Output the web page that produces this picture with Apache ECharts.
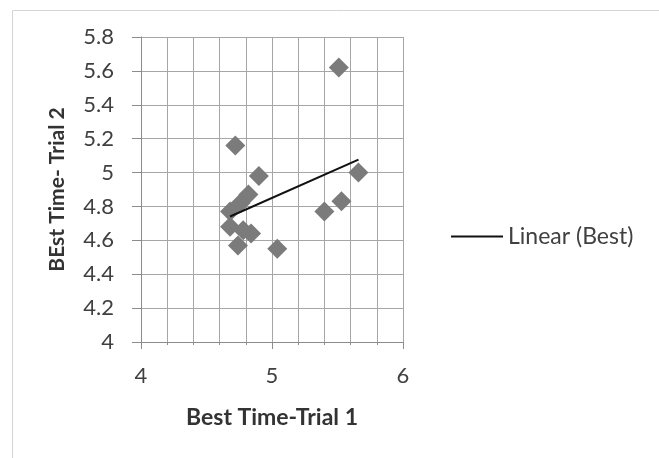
<!DOCTYPE html>
<html>
<head>
<meta charset="utf-8">
<script src="https://cdn.jsdelivr.net/npm/echarts@6/dist/echarts.min.js"></script>
<style>
html,body{margin:0;padding:0;background:#fff;}
#chart{width:659px;height:458px;}
</style>
</head>
<body>
<div id="chart"></div>
<script>
// Data
const trial1 = [5.51, 4.72, 4.90, 5.66, 4.82, 5.53, 5.40, 4.68, 4.76, 4.68, 4.78, 4.84, 4.74, 5.04];
const trial2 = [5.62, 5.16, 4.98, 5.00, 4.87, 4.83, 4.77, 4.77, 4.82, 4.68, 4.66, 4.64, 4.57, 4.55];
const xTicks = [4, 5, 6];
const yTicks = [4, 4.2, 4.4, 4.6, 4.8, 5, 5.2, 5.4, 5.6, 5.8];
const trendName = 'Linear (Best)';

// Least-squares trend line (as Excel "Linear" trendline)
const n = trial1.length;
const mx = trial1.reduce((a, b) => a + b, 0) / n;
const my = trial2.reduce((a, b) => a + b, 0) / n;
let sxy = 0, sxx = 0;
for (let i = 0; i < n; i++) { sxy += (trial1[i] - mx) * (trial2[i] - my); sxx += (trial1[i] - mx) ** 2; }
const slope = sxy / sxx, icpt = my - slope * mx;
const xmin = Math.min(...trial1), xmax = Math.max(...trial1);
const trend = [[xmin, icpt + slope * xmin], [xmax, icpt + slope * xmax]];

const font = 'Lato, "Open Sans", sans-serif';
const chart = echarts.init(document.getElementById('chart'));
chart.setOption({
  backgroundColor: '#fff',
  animation: false,
  graphic: [{
    type: 'rect', left: 10, top: 8, shape: { width: 680, height: 480 },
    style: { fill: 'none', stroke: '#d4d4d4', lineWidth: 1 }, silent: true, z: -1
  }],
  grid: { left: 141, right: 256, top: 37, bottom: 116 },
  legend: {
    data: [{ name: trendName, icon: 'rect' }],
    left: 451, top: 225, padding: 0,
    itemWidth: 52, itemHeight: 2, itemGap: 4,
    textStyle: { fontFamily: font, fontSize: 23, color: '#404040' }
  },
  xAxis: {
    type: 'value', min: 4, max: 6, interval: 1,
    name: 'Best Time-Trial 1', nameLocation: 'middle', nameGap: 64,
    nameTextStyle: { fontFamily: font, fontSize: 23, fontWeight: 'bold', color: '#333' },
    axisLine: { show: true, lineStyle: { color: '#8c8c8c' } },
    axisTick: { show: true, length: 7, lineStyle: { color: '#8c8c8c' } },
    minorTick: { show: true, splitNumber: 5, length: 3, lineStyle: { color: '#8c8c8c' } },
    axisLabel: { fontFamily: font, fontSize: 22, color: '#404040', margin: 23,
      customValues: xTicks, formatter: v => String(v) },
    splitLine: { show: true, lineStyle: { color: '#a6a6a6', width: 1 } },
    minorSplitLine: { show: true, lineStyle: { color: '#a6a6a6', width: 1 } }
  },
  yAxis: {
    type: 'value', min: 4, max: 5.8, interval: 0.2,
    name: 'BEst Time- Trial 2', nameLocation: 'middle', nameGap: 73,
    nameTextStyle: { fontFamily: font, fontSize: 21, fontWeight: 'bold', color: '#333' },
    axisLine: { show: true, lineStyle: { color: '#8c8c8c' } },
    axisTick: { show: true, length: 9, lineStyle: { color: '#8c8c8c' } },
    axisLabel: { fontFamily: font, fontSize: 22, color: '#404040', margin: 27,
      formatter: v => String(+v.toFixed(1)) },
    splitLine: { show: true, lineStyle: { color: '#a6a6a6', width: 1 } }
  },
  series: [
    {
      name: 'Best', type: 'scatter', symbol: 'diamond', symbolSize: 20,
      data: trial1.map((x, i) => [x, trial2[i]]),
      itemStyle: { color: '#7b7b7b', opacity: 1 }, z: 3
    },
    {
      name: trendName, type: 'line', data: trend, showSymbol: false, symbol: 'none',
      lineStyle: { color: '#111', width: 2 }, itemStyle: { color: '#111' }, z: 4
    }
  ]
});
</script>
</body>
</html>
